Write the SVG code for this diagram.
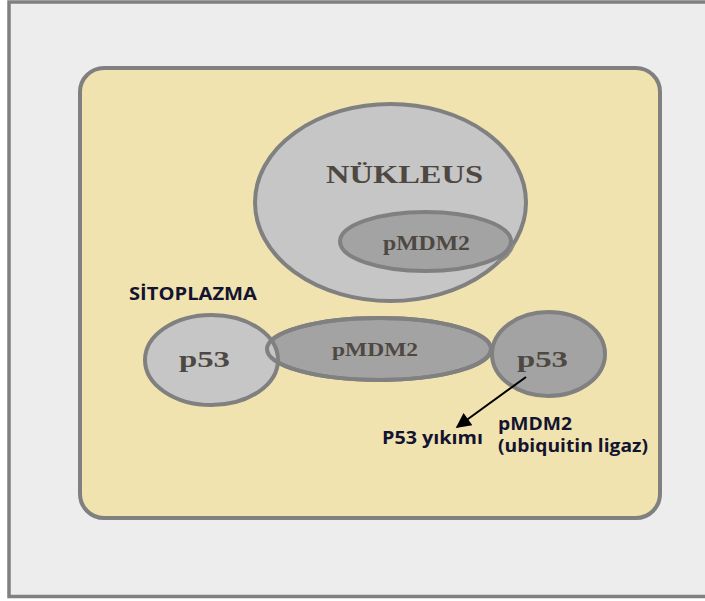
<svg xmlns="http://www.w3.org/2000/svg" width="705" height="601" viewBox="0 0 705 601">
<defs>
<marker id="ah" viewBox="0 0 10 10" refX="9" refY="5" markerWidth="8.5" markerHeight="7.5" orient="auto" markerUnits="strokeWidth">
<path d="M0,0 L10,5 L0,10 z" fill="#000"/>
</marker>
</defs>
<style>
.light{fill:#C6C6C6;stroke:#808080;stroke-width:4}
.dark{fill:#A3A3A3;stroke:#808080;stroke-width:4}
.serif{font-family:"Liberation Serif","Times New Roman",serif;font-weight:bold;fill:#4E4842;text-anchor:middle}
.sans{font-family:"Open Sans","Liberation Sans",sans-serif;font-weight:bold;fill:#141430;font-size:17.5px}
</style>
<rect x="0" y="0" width="705" height="601" fill="#FFFFFF"/>
<rect x="9" y="2" width="710" height="594.5" fill="#EDEDED" stroke="#808080" stroke-width="3.5"/>
<g id="cell">
<rect x="80" y="68" width="580" height="450" rx="24" ry="24" fill="#F0E3AF" stroke="#808080" stroke-width="4"/>
</g>
<g id="nucleus">
<ellipse class="light" cx="390.5" cy="202.5" rx="135.5" ry="98.5"/>
<text class="serif" x="404.5" y="183" font-size="26" textLength="157" lengthAdjust="spacingAndGlyphs">NÜKLEUS</text>
</g>
<g id="nuclear-pmdm2">
<ellipse class="dark" cx="425.5" cy="241.5" rx="85.5" ry="29.5"/>
<path d="M497,262 Q509,258 514,244" fill="none" stroke="#8A8A8A" stroke-width="2.5"/>
<text class="serif" x="426.5" y="250" font-size="21" textLength="87" lengthAdjust="spacingAndGlyphs">pMDM2</text>
</g>
<g id="sitoplazma">
<text class="sans" x="129" y="300" textLength="128" lengthAdjust="spacingAndGlyphs">SİTOPLAZMA</text>
</g>
<g id="pmdm2-mid">
<ellipse class="dark" cx="379" cy="349" rx="112" ry="31"/>
</g>
<g id="p53-left">
<ellipse class="light" cx="211.5" cy="360" rx="66.5" ry="45"/>
<text class="serif" x="204.5" y="367" font-size="24" textLength="51" lengthAdjust="spacingAndGlyphs">p53</text>
</g>
<g id="pmdm2-mid-outline">
<ellipse cx="379" cy="349" rx="112" ry="31" fill="none" stroke="#808080" stroke-width="4"/>
<text class="serif" x="375" y="356" font-size="19" textLength="86" lengthAdjust="spacingAndGlyphs">pMDM2</text>
</g>
<g id="p53-right">
<ellipse class="dark" cx="548.5" cy="354" rx="56.5" ry="42"/>
<text class="serif" x="542.5" y="367" font-size="24" textLength="51" lengthAdjust="spacingAndGlyphs">p53</text>
</g>
<g id="connectors">
<line x1="526" y1="377" x2="457" y2="427" stroke="#000" stroke-width="2" marker-end="url(#ah)"/>
</g>
<g id="labels">
<text class="sans" x="382" y="444" textLength="101" lengthAdjust="spacingAndGlyphs">P53 yıkımı</text>
<text class="sans" x="498" y="430" textLength="74" lengthAdjust="spacingAndGlyphs">pMDM2</text>
<text class="sans" x="498" y="452" textLength="150" lengthAdjust="spacingAndGlyphs">(ubiquitin ligaz)</text>
</g>
</svg>
